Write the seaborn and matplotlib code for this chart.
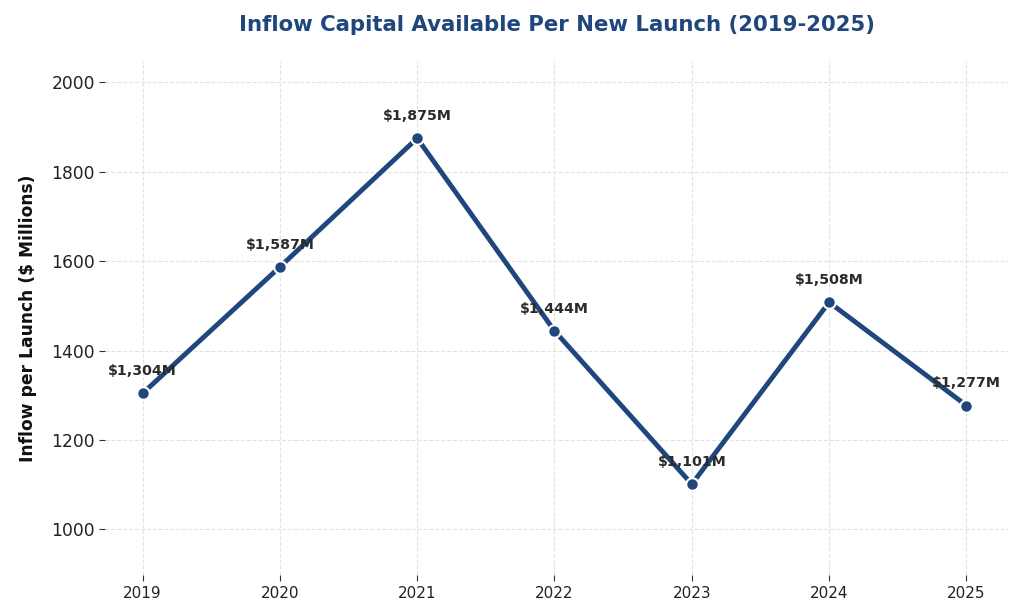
import matplotlib
matplotlib.use("Agg")
import matplotlib.pyplot as plt
import seaborn as sns
import pandas as pd

# data
years = [2019, 2020, 2021, 2022, 2023, 2024, 2025]
inflow_per_launch = [1304, 1587, 1875, 1444, 1101, 1508, 1277]

df = pd.DataFrame({"Year": years, "Inflow": inflow_per_launch})

sns.set_style("whitegrid")
plt.rcParams["font.family"] = ["DejaVu Sans"]
navy = "#1f477d"

fig, ax = plt.subplots(figsize=(10.24, 6.14), dpi=100)

sns.lineplot(data=df, x="Year", y="Inflow", ax=ax, color=navy, linewidth=3.5,
             marker="o", markersize=9, markeredgecolor="white", markeredgewidth=1.5)

for x, y in zip(years, inflow_per_launch):
    ax.annotate(f"${y:,}M", (x, y), textcoords="offset points", xytext=(0, 13),
                ha="center", fontsize=10.2, fontweight="bold", color="#2b2b2b")

ax.set_title("Inflow Capital Available Per New Launch (2019-2025)", fontsize=15.3,
             fontweight="bold", color=navy, pad=22)
ax.set_xlabel("")
ax.set_ylabel("Inflow per Launch ($ Millions)", fontsize=12.3, fontweight="bold",
              color="#111111", labelpad=10)
ax.set_xticks(years)
ax.set_xlim(2018.73, 2025.3)
ax.set_ylim(897, 2047)
ax.tick_params(axis="y", labelsize=12.3, length=4, color="#333333", left=True,
               labelcolor="#222222")
ax.tick_params(axis="x", labelsize=11, length=4, color="#333333", bottom=True,
               labelcolor="#222222")
ax.grid(True, linestyle="--", color="#e3e3e3", linewidth=0.8)
for s in ax.spines.values():
    s.set_visible(False)

plt.subplots_adjust(left=0.103, right=0.984, top=0.9, bottom=0.063)
plt.savefig("out.png", dpi=100)
